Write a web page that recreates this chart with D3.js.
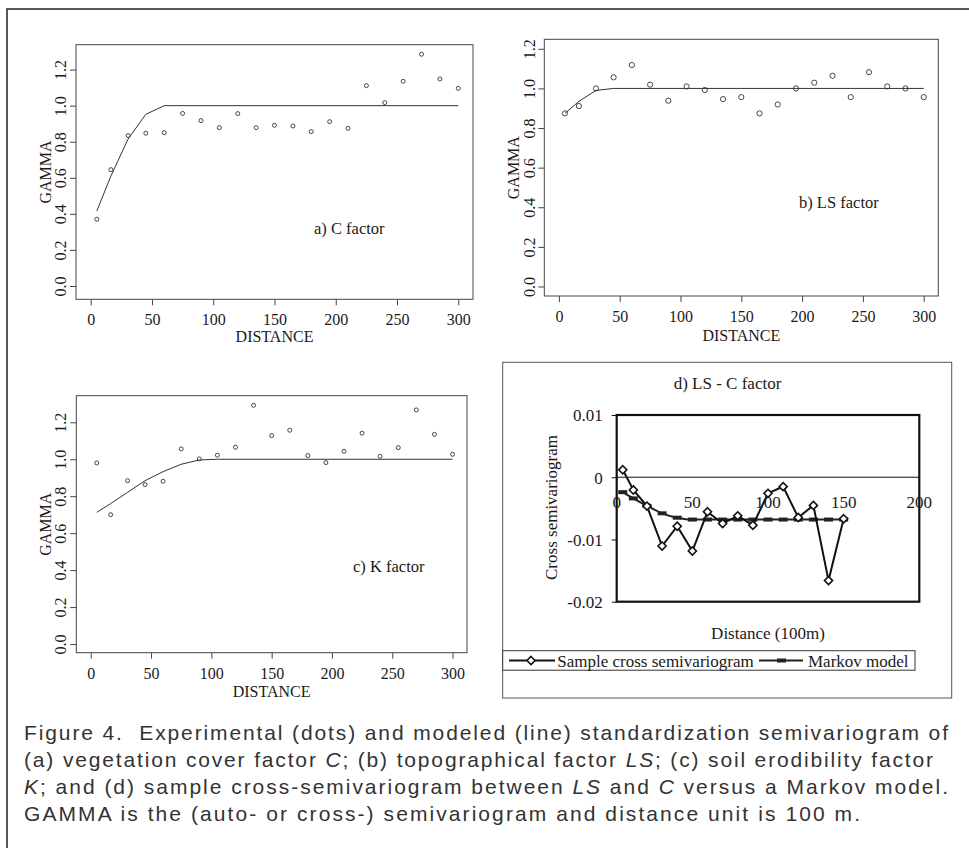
<!DOCTYPE html>
<html>
<head>
<meta charset="utf-8">
<script src="https://cdn.jsdelivr.net/npm/d3@7"></script>
<style>
    html, body {
        margin: 0;
        padding: 0;
        background: #fff;
    }

    svg {
        display: block;
    }

    .serif {
        font-family: "Liberation Serif", "Times New Roman", serif;
        fill: #1a1a1a;
    }

    .caption {
        font-family: "Liberation Sans", Arial, sans-serif;
        font-size: 21px;
        fill: #333;
    }
</style>
</head>
<body>
<svg id="fig" width="969" height="848"></svg>
<script>
    // distance lags of the three auto-semivariograms (a, b, c)
    const lags = [5, 16.5, 30.5, 45, 60, 75, 90, 105, 120, 135, 150, 165, 180, 195, 210, 225, 240, 255, 270, 285, 300];
    const xTicks = [0, 50, 100, 150, 200, 250, 300];
    const gammaTicks = [0, 0.2, 0.4, 0.6, 0.8, 1.0, 1.2];

    // a) C factor
    const gammaC = [0.370, 0.645, 0.834, 0.847, 0.850, 0.957, 0.917, 0.878, 0.956, 0.878, 0.891,
        0.887, 0.856, 0.911, 0.874, 1.111, 1.017, 1.135, 1.285, 1.148, 1.096];
    const modelLagsC = [5, 16.5, 30.5, 45, 60, 300];
    const modelC = [0.416, 0.610, 0.815, 0.952, 1.0, 1.0];

    // b) LS factor
    const gammaLS = [0.874, 0.911, 1.000, 1.056, 1.118, 1.019, 0.938, 1.010, 0.992, 0.946, 0.956,
        0.874, 0.919, 1.000, 1.029, 1.064, 0.956, 1.082, 1.010, 1.000, 0.956];
    const modelLagsLS = [5, 16.5, 30.5, 45, 300];
    const modelLS = [0.874, 0.935, 0.990, 1.0, 1.0];

    // c) K factor
    const gammaK = [0.980, 0.700, 0.884, 0.863, 0.881, 1.056, 1.002, 1.022, 1.065, 1.292, 1.128,
        1.157, 1.020, 0.982, 1.043, 1.141, 1.016, 1.063, 1.267, 1.135, 1.027];
    const modelLagsK = [5, 16.5, 30.5, 45, 60, 75, 90, 105, 300];
    const modelK = [0.713, 0.760, 0.821, 0.884, 0.933, 0.973, 0.996, 1.0, 1.0];

    // d) LS - C cross semivariogram
    const distD = [4, 11, 20, 30, 40, 50, 60, 70, 80, 90, 100, 110, 120, 130, 140, 150];
    const sampleD = [0.0012, -0.00205, -0.00464, -0.01105, -0.00787, -0.01186, -0.00555, -0.00744,
        -0.0062, -0.00771, -0.00259, -0.00151, -0.00647, -0.00453, -0.01661, -0.00668];
    const markovD = [-0.0024, -0.0034, -0.0046, -0.0058, -0.0065, -0.0068, -0.0068, -0.0068,
        -0.0068, -0.0068, -0.0068, -0.0068, -0.0068, -0.0068, -0.0068, -0.0068];
    const xTicksD = [0, 50, 100, 150, 200];
    const yTicksD = [0.01, 0, -0.01, -0.02];

    const captionLines = [
        [["Figure 4.  Experimental (dots) and modeled (line) standardization semivariogram of", false]],
        [["(a) vegetation cover factor ", false], ["C", true], ["; (b) topographical factor ", false], ["LS", true],
            ["; (c) soil erodibility factor", false]],
        [["K", true], ["; and (d) sample cross-semivariogram between ", false], ["LS", true], [" and ", false],
            ["C", true], [" versus a Markov model.", false]],
        [["GAMMA is the (auto- or cross-) semivariogram and distance unit is 100 m.", false]]
    ];
    const captionEnds = [948, 933, 948, 860];

    const svg = d3.select('#fig');

    // page frame (top and left rule of the scanned figure)
    svg.append('path')
        .attr('d', 'M7,848 V9 H969')
        .attr('fill', 'none')
        .attr('stroke', '#222')
        .attr('stroke-width', 1.5);

    // ---------- R style panels ----------
    function drawR(p) {
        const x = d3.scaleLinear().domain([-12, 312]).range([p.left, p.right]);
        const y = d3.scaleLinear().domain(p.ydom).range([p.bottom, p.top]);
        const g = svg.append('g');

        g.append('rect')
            .attr('x', p.left).attr('y', p.top)
            .attr('width', p.right - p.left).attr('height', p.bottom - p.top)
            .attr('fill', 'none').attr('stroke', '#444').attr('stroke-width', 1);

        const xa = g.append('g')
            .attr('transform', `translate(0,${p.bottom})`)
            .call(d3.axisBottom(x).tickValues(xTicks).tickSize(6).tickFormat(d3.format('d')));
        xa.select('.domain').remove();
        xa.selectAll('line').attr('stroke', '#444');
        xa.selectAll('text')
            .attr('class', 'serif')
            .attr('font-size', 16)
            .attr('y', 26).attr('dy', null);

        const ya = g.append('g')
            .attr('transform', `translate(${p.left},0)`)
            .call(d3.axisLeft(y).tickValues(gammaTicks).tickSize(6).tickFormat(d3.format('.1f')));
        ya.select('.domain').remove();
        ya.selectAll('line').attr('stroke', '#444');
        ya.selectAll('text')
            .attr('class', 'serif')
            .attr('font-size', 16)
            .attr('text-anchor', 'middle')
            .attr('transform', 'rotate(-90)')
            .attr('x', 0).attr('y', p.tickGap).attr('dy', null);

        xa.attr('font-family', null);
        ya.attr('font-family', null);

        // axis titles
        g.append('text')
            .attr('class', 'serif')
            .attr('font-size', 16)
            .attr('text-anchor', 'middle')
            .attr('x', (p.left + p.right) / 2)
            .attr('y', p.xTitleY)
            .text('DISTANCE');

        const cy = (p.top + p.bottom) / 2;
        g.append('text')
            .attr('class', 'serif')
            .attr('font-size', 16)
            .attr('text-anchor', 'middle')
            .attr('transform', `translate(${p.yTitleX},${cy}) rotate(-90)`)
            .text('GAMMA');

        g.append('text')
            .attr('class', 'serif')
            .attr('font-size', 16.5)
            .attr('x', p.labelX).attr('y', p.labelY)
            .text(p.label);

        // modeled semivariogram
        const line = d3.line().x(d => x(d[0])).y(d => y(d[1]));
        g.append('path')
            .datum(d3.zip(p.modelLags, p.model))
            .attr('d', line)
            .attr('fill', 'none')
            .attr('stroke', '#333')
            .attr('stroke-width', 1);

        // experimental points
        g.selectAll('circle.pt')
            .data(d3.zip(lags, p.gamma))
            .join('circle')
            .attr('class', 'pt')
            .attr('cx', d => x(d[0]))
            .attr('cy', d => y(d[1]))
            .attr('r', p.r)
            .attr('fill', 'none')
            .attr('stroke', '#333')
            .attr('stroke-width', 0.9);
    }

    drawR({
        left: 76, right: 473, top: 44.7, bottom: 299.3, ydom: [-0.074, 1.338],
        gamma: gammaC, modelLags: modelLagsC, model: modelC, r: 2,
        tickGap: -10.5, xTitleY: 342, yTitleX: 50.5,
        label: 'a) C factor', labelX: 314, labelY: 234
    });
    drawR({
        left: 544.3, right: 938.3, top: 39.3, bottom: 296, ydom: [-0.048, 1.248],
        gamma: gammaLS, modelLags: modelLagsLS, model: modelLS, r: 2.6,
        tickGap: -9, xTitleY: 340.5, yTitleX: 519,
        label: 'b) LS factor', labelX: 799, labelY: 208
    });
    drawR({
        left: 76.3, right: 467, top: 395.7, bottom: 652.7, ydom: [-0.047, 1.344],
        gamma: gammaK, modelLags: modelLagsK, model: modelK, r: 2,
        tickGap: -10.5, xTitleY: 697, yTitleX: 50.5,
        label: 'c) K factor', labelX: 353, labelY: 572
    });

    // ---------- d) Excel style panel ----------
    const gd = svg.append('g');
    const xd = d3.scaleLinear().domain([0, 200]).range([616.7, 919.3]);
    const yd = d3.scaleLinear().domain([-0.02, 0.01]).range([601.7, 415]);

    gd.append('rect')
        .attr('x', 502.7).attr('y', 362.3).attr('width', 449).attr('height', 335.7)
        .attr('fill', 'none').attr('stroke', '#555').attr('stroke-width', 1);

    gd.append('text')
        .attr('class', 'serif')
        .attr('font-size', 17)
        .attr('text-anchor', 'middle')
        .attr('x', 727.5).attr('y', 389)
        .text('d) LS - C factor');

    // zero line carrying the horizontal axis
    gd.append('line')
        .attr('x1', xd(0)).attr('x2', xd(200))
        .attr('y1', yd(0)).attr('y2', yd(0))
        .attr('stroke', '#111').attr('stroke-width', 1);

    gd.selectAll('text.xl')
        .data(xTicksD)
        .join('text')
        .attr('class', 'serif xl')
        .attr('font-size', 17)
        .attr('text-anchor', 'middle')
        .attr('x', d => xd(d))
        .attr('y', yd(0) + 31)
        .text(d => d);

    const yaD = gd.append('g')
        .attr('transform', `translate(${xd(0)},0)`)
        .call(d3.axisLeft(yd).tickValues(yTicksD).tickSize(5).tickPadding(9).tickFormat(d => String(d)));
    yaD.select('.domain').remove();
    yaD.attr('font-family', null).attr('font-size', null);
    yaD.selectAll('line').attr('stroke', '#111');
    yaD.selectAll('text').attr('class', 'serif').attr('font-size', 17).attr('dy', '0.35em');

    gd.append('rect')
        .attr('x', xd(0)).attr('y', yd(0.01))
        .attr('width', xd(200) - xd(0)).attr('height', yd(-0.02) - yd(0.01))
        .attr('fill', 'none').attr('stroke', '#111').attr('stroke-width', 2.2);

    gd.append('text')
        .attr('class', 'serif')
        .attr('font-size', 17)
        .attr('text-anchor', 'middle')
        .attr('transform', `translate(556.7,507.5) rotate(-90)`)
        .text('Cross semivariogram');

    gd.append('text')
        .attr('class', 'serif')
        .attr('font-size', 17)
        .attr('text-anchor', 'middle')
        .attr('x', 768).attr('y', 639)
        .text('Distance (100m)');

    const lineD = d3.line().x(d => xd(d[0])).y(d => yd(d[1]));
    const diamond = d3.symbol().type(d3.symbolDiamond2).size(42);

    // Markov model
    gd.append('path')
        .datum(d3.zip(distD, markovD))
        .attr('d', lineD.curve(d3.curveMonotoneX))
        .attr('fill', 'none')
        .attr('stroke', '#222')
        .attr('stroke-width', 2);
    gd.selectAll('rect.mk')
        .data(d3.zip(distD, markovD))
        .join('rect')
        .attr('class', 'mk')
        .attr('x', d => xd(d[0]) - 4.5)
        .attr('y', d => yd(d[1]) - 2)
        .attr('width', 9).attr('height', 4)
        .attr('fill', '#222');

    // sample cross semivariogram
    gd.append('path')
        .datum(d3.zip(distD, sampleD))
        .attr('d', lineD.curve(d3.curveLinear))
        .attr('fill', 'none')
        .attr('stroke', '#111')
        .attr('stroke-width', 2);
    gd.selectAll('path.dm')
        .data(d3.zip(distD, sampleD))
        .join('path')
        .attr('class', 'dm')
        .attr('d', diamond)
        .attr('transform', d => `translate(${xd(d[0])},${yd(d[1])})`)
        .attr('fill', '#fff')
        .attr('stroke', '#111')
        .attr('stroke-width', 1.6);

    // legend
    const ly = 660.5;
    gd.append('rect')
        .attr('x', 502.7).attr('y', 650.7).attr('width', 412.3).attr('height', 19.5)
        .attr('fill', '#fff').attr('stroke', '#333').attr('stroke-width', 1);
    gd.append('line').attr('x1', 509).attr('x2', 555).attr('y1', ly).attr('y2', ly)
        .attr('stroke', '#111').attr('stroke-width', 2);
    gd.append('path').attr('d', diamond)
        .attr('transform', `translate(531,${ly})`)
        .attr('fill', '#fff').attr('stroke', '#111').attr('stroke-width', 1.6);
    gd.append('text').attr('class', 'serif').attr('font-size', 17)
        .attr('x', 557.3).attr('y', ly + 6).text('Sample cross semivariogram');
    gd.append('line').attr('x1', 759).attr('x2', 803).attr('y1', ly).attr('y2', ly)
        .attr('stroke', '#222').attr('stroke-width', 2);
    gd.append('rect').attr('x', 777).attr('y', ly - 2).attr('width', 9).attr('height', 4)
        .attr('fill', '#222');
    gd.append('text').attr('class', 'serif').attr('font-size', 17)
        .attr('x', 808).attr('y', ly + 6).text('Markov model');

    // ---------- caption ----------
    const capX = 24;
    captionLines.forEach((parts, i) => {
        const t = svg.append('text')
            .attr('class', 'caption')
            .attr('x', capX)
            .attr('y', 740 + i * 27)
            .attr('textLength', captionEnds[i] - capX)
            .attr('lengthAdjust', 'spacing')
            .attr('xml:space', 'preserve');
        parts.forEach(([s, it]) => {
            t.append('tspan')
                .attr('font-style', it ? 'italic' : null)
                .text(s);
        });
    });
</script>
</body>
</html>
